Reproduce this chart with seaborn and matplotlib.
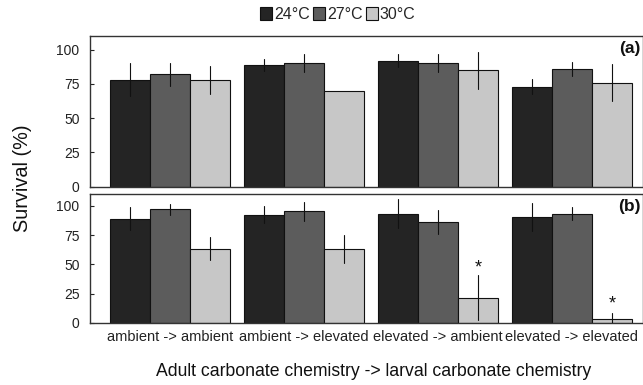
import numpy as np
import pandas as pd
import matplotlib
matplotlib.use("Agg")
import matplotlib.pyplot as plt
import seaborn as sns
from matplotlib.patches import Patch

sns.set_theme(style="white")
plt.rcParams['font.family'] = ['Liberation Sans', 'DejaVu Sans']

categories = ["ambient -> ambient", "ambient -> elevated",
              "elevated -> ambient", "elevated -> elevated"]
temps = ["24°C", "27°C", "30°C"]

# panel (a)
a_24 = [78, 89, 92, 73]
a_27 = [82, 90, 90, 86]
a_30 = [78, 70, 85, 76]
a_24_err = [12, 4.5, 4.6, 5.3]
a_27_err = [8.4, 6.6, 6.6, 5.2]
a_30_err = [10, 0, 13.6, 13.8]

# panel (b)
b_24 = [89, 92.5, 93.5, 90.5]
b_27 = [97, 95.5, 86, 93.5]
b_30 = [63.5, 63.5, 21.5, 3]
b_24_err = [10, 7.3, 12.2, 12.3]
b_27_err = [5, 8.2, 10.3, 5.3]
b_30_err = [10, 12, 19.4, 4.9]

star_cats = ["elevated -> ambient", "elevated -> elevated"]
star_y = [47, 16]

colors = ["#242424", "#5c5c5c", "#c7c7c7"]

def long_df(v24, v27, v30, e24, e27, e30):
    rows = []
    for t, vals, errs in zip(temps, [v24, v27, v30], [e24, e27, e30]):
        for c, v, e in zip(categories, vals, errs):
            rows.append({"cat": c, "temp": t, "val": v, "err": e})
    return pd.DataFrame(rows)

dfa = long_df(a_24, a_27, a_30, a_24_err, a_27_err, a_30_err)
dfb = long_df(b_24, b_27, b_30, b_24_err, b_27_err, b_30_err)

fig = plt.figure(figsize=(6.43, 3.85), dpi=100)
W, H = 643, 385
axa = fig.add_axes([90 / W, 1 - 186.7 / H, 553 / W, (186.7 - 36) / H])
axb = fig.add_axes([90 / W, 1 - 322.7 / H, 553 / W, (322.7 - 194.3) / H])

for ax, df, lab in [(axa, dfa, "(a)"), (axb, dfb, "(b)")]:
    sns.barplot(data=df, x="cat", y="val", hue="temp", order=categories,
                hue_order=temps, palette=colors, errorbar=None, width=0.9,
                edgecolor="#111111", linewidth=0.8, ax=ax, legend=False,
                saturation=1)
    bars = [p for p in ax.patches]
    for i, t in enumerate(temps):
        sub = df[df.temp == t].set_index("cat").loc[categories]
        for j, c in enumerate(categories):
            p = bars[i * len(categories) + j]
            xc = p.get_x() + p.get_width() / 2
            e = sub.loc[c, "err"]
            if e > 0:
                ax.plot([xc, xc], [sub.loc[c, "val"] - e, sub.loc[c, "val"] + e],
                        color="#111111", lw=0.8, zorder=5)
    ax.set_ylim(0, 110)
    ax.set_xlim(-0.597, -0.597 + 553 / 134)
    ax.set_yticks([0, 25, 50, 75, 100])
    ax.tick_params(axis="y", direction="in", length=3, width=0.8,
                   labelsize=10, pad=7.5, colors="#222222", left=True)
    ax.tick_params(axis="x", direction="in", length=3, width=0.8,
                   labelsize=10.5, pad=5, colors="#222222", bottom=True)
    ax.set_xlabel("")
    ax.set_ylabel("")
    for s in ax.spines.values():
        s.set_color("#333333")
        s.set_linewidth(1.0)
    ax.text(0.995, 0.965, lab, transform=ax.transAxes, ha="right", va="top",
            fontsize=12.5, fontweight="bold", color="#111111")

axa.set_xticklabels([])
axb.set_xticklabels(categories, fontsize=10.5)

pb = axb.patches
for c, y in zip(star_cats, star_y):
    j = categories.index(c)
    p = pb[2 * len(categories) + j]
    axb.text(p.get_x() + p.get_width() / 2, y, "*", ha="center", va="center",
             fontsize=13, color="#111111")

fig.text(23 / W, 1 - 178 / H, "Survival (%)", rotation=90, ha="center",
         va="center", fontsize=14.3, color="#111111")
fig.text(373.5 / W, 1 - 372 / H, "Adult carbonate chemistry -> larval carbonate chemistry",
         ha="center", va="center", fontsize=12.7, color="#111111")

handles = [Patch(facecolor=c, edgecolor="#111111", linewidth=0.8, label=t)
           for c, t in zip(colors, temps)]
fig.legend(handles=handles, loc="center", bbox_to_anchor=(338 / W, 1 - 14.5 / H),
           ncol=3, frameon=False, fontsize=11.5, handlelength=0.75, handleheight=0.8,
           handletextpad=0.12, columnspacing=0.2, borderaxespad=0, borderpad=0)

fig.savefig("out.png", dpi=100)
